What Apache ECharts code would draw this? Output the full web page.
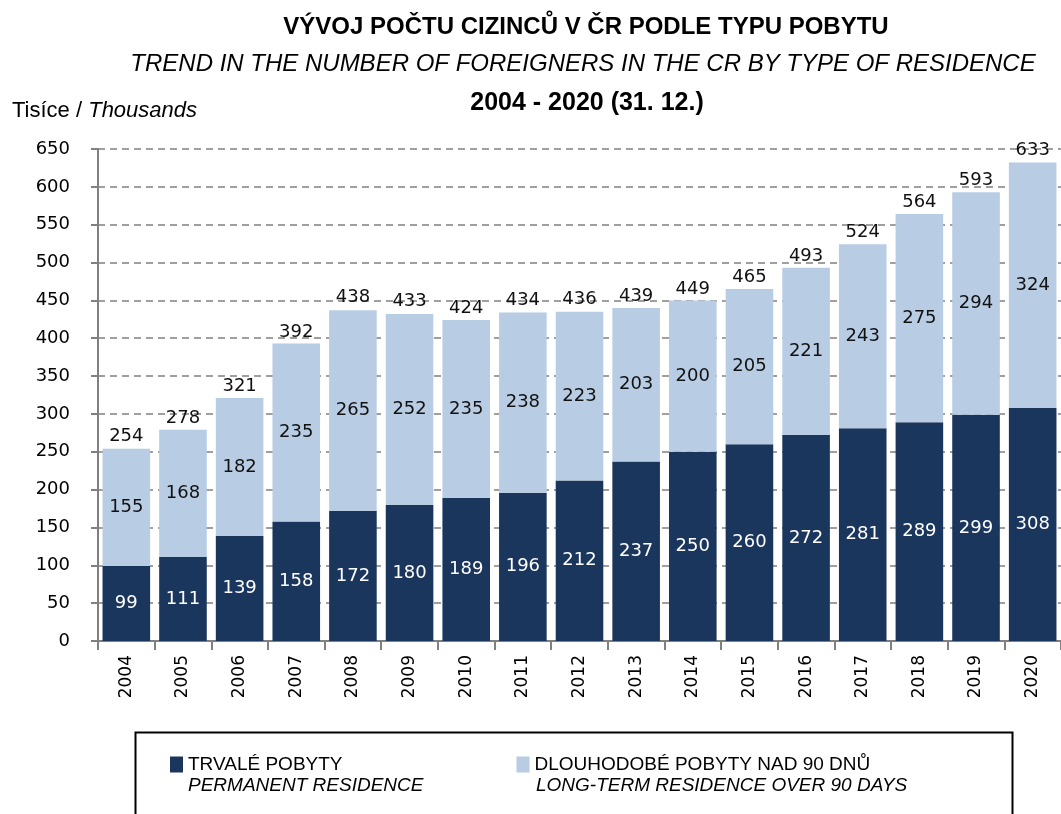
<!DOCTYPE html>
<html>
<head>
<meta charset="utf-8">
<script src="https://cdn.jsdelivr.net/npm/echarts@6/dist/echarts.min.js"></script>
<style>
  html, body { margin: 0; padding: 0; background: #fff; }
  #chart { width: 1061px; height: 814px; }
</style>
</head>
<body>
<div id="chart"></div>
<script>
// roky / years
var years = ['2004', '2005', '2006', '2007', '2008', '2009', '2010', '2011', '2012',
  '2013', '2014', '2015', '2016', '2017', '2018', '2019', '2020'];
// trvalé pobyty (tis.)
var permanent = [99, 111, 139, 158, 172, 180, 189, 196, 212, 237, 250, 260, 272, 281, 289, 299, 308];
// dlouhodobé pobyty nad 90 dnů (tis.)
var longTerm = [155, 168, 182, 235, 265, 252, 235, 238, 223, 203, 200, 205, 221, 243, 275, 294, 324];
// celkem, jak je v grafu
var totals = [254, 278, 321, 392, 438, 433, 424, 434, 436, 439, 449, 465, 493, 524, 564, 593, 633];
var yTicks = { min: 0, max: 650, step: 50 };

var nameCz = ['TRVALÉ POBYTY', 'DLOUHODOBÉ POBYTY NAD 90 DNŮ'];
var nameEn = ['PERMANENT RESIDENCE', 'LONG-TERM RESIDENCE OVER 90 DAYS'];

var DARK = '#1a365d';
var LIGHT = '#b8cce4';
var FONT = 'DejaVu Sans';
var TFONT = 'Liberation Sans';

var chart = echarts.init(document.getElementById('chart'));

var option = {
  backgroundColor: '#ffffff',
  animation: false,
  title: [
    {
      text: 'VÝVOJ POČTU CIZINCŮ V ČR PODLE TYPU POBYTU',
      left: 581, top: 10, textAlign: 'center',
      textStyle: { fontFamily: TFONT, fontSize: 24, fontWeight: 'bold', color: '#000' }
    },
    {
      text: 'TREND IN THE NUMBER OF FOREIGNERS IN THE CR BY TYPE OF RESIDENCE',
      left: 578, top: 47, textAlign: 'center',
      textStyle: { fontFamily: TFONT, fontSize: 24, fontStyle: 'italic', fontWeight: 'normal', color: '#000' }
    },
    {
      text: '2004 - 2020 (31. 12.)',
      left: 582, top: 86, textAlign: 'center',
      textStyle: { fontFamily: TFONT, fontSize: 25, fontWeight: 'bold', color: '#000' }
    }
  ],
  legend: {
    left: 165, top: 750,
    itemWidth: 13, itemHeight: 16, itemGap: 174,
    icon: 'rect',
    selectedMode: false,
    data: nameCz,
    textStyle: { fontFamily: TFONT, fontSize: 19, color: '#000' }
  },
  graphic: [
    {
      type: 'rect', left: 133, top: 730, z: -1,
      shape: { width: 877, height: 120 },
      style: { fill: 'none', stroke: '#000', lineWidth: 2 }
    },
    {
      type: 'text', left: 188, top: 776,
      style: { text: nameEn[0], font: 'italic 19px "' + TFONT + '"', fill: '#000' }
    },
    {
      type: 'text', left: 536, top: 776,
      style: { text: nameEn[1], font: 'italic 19px "' + TFONT + '"', fill: '#000' }
    },
    {
      type: 'text', left: 12, top: 100,
      style: {
        text: '{a|Tisíce / }{b|Thousands}',
        rich: {
          a: { fontFamily: TFONT, fontSize: 22, color: '#000' },
          b: { fontFamily: TFONT, fontSize: 22, fontStyle: 'italic', color: '#000' }
        }
      }
    }
  ],
  grid: { left: 98, top: 149, width: 974, height: 492, containLabel: false },
  xAxis: {
    type: 'category',
    data: years,
    axisLine: { lineStyle: { color: '#808080', width: 2 } },
    axisTick: { show: true, length: 9, lineStyle: { color: '#808080', width: 2 } },
    axisLabel: {
      rotate: 90, margin: 14, color: '#000',
      fontFamily: FONT, fontSize: 17
    },
    splitLine: { show: false }
  },
  yAxis: {
    type: 'value',
    min: yTicks.min, max: yTicks.max, interval: yTicks.step,
    axisLine: { show: true, lineStyle: { color: '#808080', width: 2 } },
    axisTick: { show: true, length: 7, lineStyle: { color: '#808080', width: 2 } },
    axisLabel: { color: '#000', fontFamily: FONT, fontSize: 18, margin: 28 },
    splitLine: { show: true, lineStyle: { color: '#808080', width: 1.5, type: [7, 5] } }
  },
  series: [
    {
      name: nameCz[0],
      type: 'bar',
      stack: 'pobyty',
      barCategoryGap: '16%',
      data: permanent,
      itemStyle: { color: DARK },
      label: {
        show: true, position: 'inside', color: '#fff',
        fontFamily: FONT, fontSize: 18
      }
    },
    {
      name: nameCz[1],
      type: 'bar',
      stack: 'pobyty',
      barCategoryGap: '16%',
      data: longTerm,
      itemStyle: { color: LIGHT },
      label: {
        show: true, position: 'inside', color: '#111',
        fontFamily: FONT, fontSize: 18
      }
    },
    {
      name: 'celkem',
      type: 'bar',
      barGap: '-100%',
      barCategoryGap: '16%',
      data: totals,
      z: 1,
      itemStyle: { color: 'rgba(0,0,0,0)' },
      label: {
        show: true, position: 'top', distance: 3, color: '#111',
        fontFamily: FONT, fontSize: 18
      },
      silent: true
    }
  ]
};

chart.setOption(option);
</script>
</body>
</html>
